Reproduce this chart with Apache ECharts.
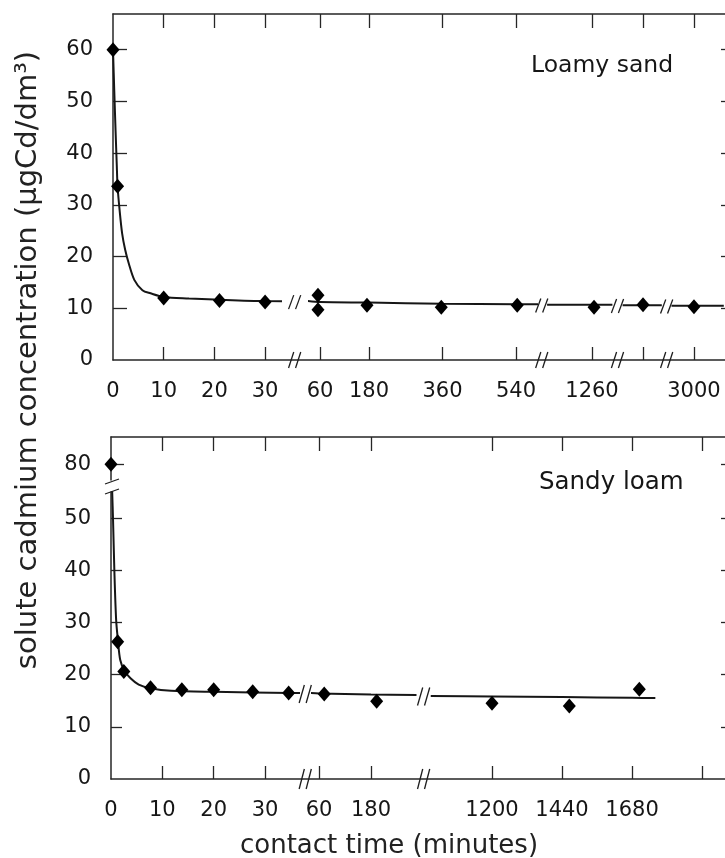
<!DOCTYPE html>
<html>
<head>
<meta charset="utf-8">
<script src="https://cdn.jsdelivr.net/npm/echarts@6/dist/echarts.min.js"></script>
<style>
html,body{margin:0;padding:0;background:#fff;}
#c{width:725px;height:858px;}
</style>
</head>
<body>
<div id="c"></div>
<script>
// ---------------- data ----------------
// Loamy sand (upper panel)
const loamyTime = [0, 0.9, 10, 21, 30, 55, 55, 175, 357, 543, 1265, 1440, 3000];
const loamyConc = [60, 33.6, 12.0, 11.5, 11.2, 12.5, 9.7, 10.6, 10.2, 10.6, 10.2, 10.7, 10.3];
const loamyFitTime = [0, 0.25, 0.5, 0.75, 0.9, 1.3, 1.8, 2.4, 3.1, 4.2, 5.8, 7.4, 10, 15, 20, 30, 60, 180, 360, 540, 600, 1150, 1260, 1310, 1390, 1440, 1486, 2945, 3000, 3073];
const loamyFitConc = [60, 52, 44.5, 37.5, 33.6, 29, 24.5, 21.3, 18.7, 15.5, 13.5, 12.9, 12.2, 11.9, 11.7, 11.4, 11.2, 11.1, 10.9, 10.8, 10.8, 10.7, 10.7, 10.7, 10.6, 10.6, 10.6, 10.5, 10.5, 10.5];
const loamyXTicks = [[10, 20, 30], [60, 180, 360, 540], [1260], [1440], [3000]];
const loamyXLabels = [[0, 10, 20, 30], [60, 180, 360, 540], [1260], [], [3000]];
const loamyYTicks = [10, 20, 30, 40, 50, 60];
const loamyYLabels = [0, 10, 20, 30, 40, 50, 60];

// Sandy loam (lower panel)
const sandyTime = [0, 1.3, 2.5, 7.7, 13.8, 20, 27.6, 34.6, 72, 193, 1200, 1465, 1705];
const sandyConc = [80, 26.3, 20.6, 17.5, 17.1, 17.1, 16.7, 16.5, 16.3, 14.9, 14.5, 14.0, 17.2];
const sandyFitTime = [0.2, 0.4, 0.65, 1.0, 1.35, 1.8, 2.6, 3.8, 5.4, 7.7, 11.7, 20, 35, 60, 180, 285, 990, 1200, 1440, 1680, 1760];
const sandyFitConc = [56, 49.6, 40.1, 30.5, 26.6, 22.8, 20.8, 19.3, 18.1, 17.4, 16.9, 16.7, 16.5, 16.4, 16.2, 16.1, 15.9, 15.8, 15.7, 15.55, 15.5];
const sandyXTicks = [[10, 20, 30], [60, 180], [1200, 1440, 1680, 1920]];
const sandyXLabels = [[0, 10, 20, 30], [60, 180], [1200, 1440, 1680]];
const sandyYTicksLow = [10, 20, 30, 40, 50];
const sandyYLabelsLow = [0, 10, 20, 30, 40, 50];
const sandyYTicksHigh = [80];
const sandyYLabelsHigh = [80];

const yTitle = 'solute cadmium concentration (μgCd/dm³)';
const xTitle = 'contact time (minutes)';
const loamyName = 'Loamy sand';
const sandyName = 'Sandy loam';

// ---------------- layout / style ----------------
const FONT = "'DejaVu Sans', 'Liberation Sans', sans-serif";
const INK = '#161616';
const AXC = '#262626';
const axLine = {color: AXC, width: 1.5};
const tkLine = {color: AXC, width: 1.3};
const plain = v => String(v);

// broken x axis: each piece gets its own linear scale
const topSegs = [
  {l: 113,   r: 280.3, min: 0,    max: 33},
  {l: 309,   r: 536.4, min: 33,   max: 590},
  {l: 547.1, r: 612.4, min: 1150, max: 1310},
  {l: 622.6, r: 661.8, min: 1390, max: 1486},
  {l: 671.5, r: 723.8, min: 2945, max: 3073}
];
const botSegs = [
  {l: 111,    r: 298.4, min: 0,   max: 36.5},
  {l: 312.1,  r: 416.5, min: 44,  max: 285},
  {l: 430.75, r: 723.9, min: 990, max: 1995}
];
const topRow = {top: 14, bottom: 360, yMin: 0, yMax: 66.9, yTicks: loamyYTicks, yLabels: loamyYLabels, yTickLen: 14, bottomTicks: true, topTicks: true};
const botHigh = {top: 437, bottom: 480, yMin: 77, yMax: 85.24, yTicks: sandyYTicksHigh, yLabels: sandyYLabelsHigh, yTickLen: 13, bottomTicks: false, topTicks: true};
const botLow = {top: 492, bottom: 779, yMin: 0, yMax: 55, yTicks: sandyYTicksLow, yLabels: sandyYLabelsLow, yTickLen: 11, bottomTicks: true, topTicks: false};

const grids = [], xAxis = [], yAxis = [], series = [];

function pairs(ts, vs) { return ts.map((t, i) => [t, vs[i]]); }

function fitWindow(fit, min, max) {
  let a = fit.findIndex(p => p[0] >= min);
  let b = -1;
  for (let i = fit.length - 1; i >= 0; i--) { if (fit[i][0] <= max) { b = i; break; } }
  if (a < 0 || b < 0) return [];
  if (fit[a][0] > min) a = Math.max(0, a - 1);
  if (fit[b][0] < max) b = Math.min(fit.length - 1, b + 1);
  return fit.slice(a, b + 1);
}

function addSegment(seg, row, ticks, labels, first, prevMax, pts, fit) {
  const gi = grids.length;
  grids.push({left: seg.l, top: row.top, width: seg.r - seg.l, height: row.bottom - row.top,
    containLabel: false, outerBoundsMode: 'none', show: false});
  const xb = xAxis.length;
  xAxis.push({gridIndex: gi, type: 'value', position: 'bottom', min: seg.min, max: seg.max,
    axisLine: {show: false, onZero: false},
    axisTick: {show: row.bottomTicks, inside: true, length: 13, customValues: ticks, lineStyle: tkLine},
    axisLabel: {show: row.bottomTicks && labels.length > 0, customValues: labels.length ? labels : undefined,
      formatter: plain, margin: 21, fontSize: 21, fontFamily: FONT, color: INK},
    splitLine: {show: false}});
  xAxis.push({gridIndex: gi, type: 'value', position: 'top', min: seg.min, max: seg.max,
    axisLine: {show: false, onZero: false},
    axisTick: {show: row.topTicks, inside: true, length: 14, customValues: ticks, lineStyle: tkLine},
    axisLabel: {show: false}, splitLine: {show: false}});
  const yi = yAxis.length;
  yAxis.push({gridIndex: gi, type: 'value', position: 'left', min: row.yMin, max: row.yMax, show: first,
    axisLine: {show: true, onZero: false, lineStyle: axLine},
    axisTick: {show: true, inside: true, length: row.yTickLen, customValues: row.yTicks, lineStyle: tkLine},
    axisLabel: {show: true, customValues: row.yLabels, formatter: plain, margin: 20, fontSize: 21, fontFamily: FONT, color: INK},
    splitLine: {show: false}});
  if (fit) {
    const win = fitWindow(fit, seg.min, seg.max);
    if (win.length) series.push({type: 'line', xAxisIndex: xb, yAxisIndex: yi, data: win, symbol: 'none',
      smooth: 0.3, lineStyle: {color: INK, width: 2}, clip: true, silent: true, z: 2});
  }
  const inside = pts.filter(p => p[0] >= seg.min && p[0] <= seg.max && p[0] > prevMax && p[1] >= row.yMin && p[1] <= row.yMax);
  if (inside.length) series.push({type: 'scatter', xAxisIndex: xb, yAxisIndex: yi, data: inside,
    symbol: 'diamond', symbolSize: [13, 15], itemStyle: {color: '#000', opacity: 1}, clip: false, silent: true, z: 3});
  return {xb, yi};
}

function addFrame(l, row, topLine, bottomLine, rightTicks) {
  const gi = grids.length;
  grids.push({left: l, top: row.top, width: 726 - l, height: row.bottom - row.top,
    containLabel: false, outerBoundsMode: 'none', show: false});
  if (bottomLine) xAxis.push({gridIndex: gi, type: 'value', position: 'bottom', min: 0, max: 1,
    axisLine: {show: true, onZero: false, lineStyle: axLine}, axisTick: {show: false}, axisLabel: {show: false}, splitLine: {show: false}});
  if (topLine) xAxis.push({gridIndex: gi, type: 'value', position: 'top', min: 0, max: 1,
    axisLine: {show: true, onZero: false, lineStyle: axLine}, axisTick: {show: false}, axisLabel: {show: false}, splitLine: {show: false}});
  yAxis.push({gridIndex: gi, type: 'value', position: 'right', min: row.yMin, max: row.yMax,
    axisLine: {show: false, onZero: false},
    axisTick: {show: true, inside: true, length: 5, customValues: rightTicks, lineStyle: tkLine},
    axisLabel: {show: false}, splitLine: {show: false}});
}

const loamyPts = pairs(loamyTime, loamyConc);
const loamyFit = pairs(loamyFitTime, loamyFitConc);
const sandyPts = pairs(sandyTime, sandyConc);
const sandyFit = pairs(sandyFitTime, sandyFitConc);

addFrame(113, topRow, true, true, loamyYTicks);
addFrame(111, botHigh, true, false, sandyYTicksHigh);
addFrame(111, botLow, false, true, sandyYTicksLow);

const prevOf = (segs, i) => (i === 0 ? -Infinity : segs[i - 1].max);
const topRefs = topSegs.map((s, i) => addSegment(s, topRow, loamyXTicks[i], loamyXLabels[i], i === 0, prevOf(topSegs, i), loamyPts, loamyFit));
botSegs.forEach((s, i) => addSegment(s, botHigh, sandyXTicks[i], [], i === 0, prevOf(botSegs, i), sandyPts, null));
const botRefs = botSegs.map((s, i) => addSegment(s, botLow, sandyXTicks[i], sandyXLabels[i], i === 0, prevOf(botSegs, i), sandyPts, sandyFit));

const chart = echarts.init(document.getElementById('c'), null, {renderer: 'canvas'});
chart.setOption({
  backgroundColor: '#ffffff',
  animation: false,
  grid: grids, xAxis: xAxis, yAxis: yAxis, series: series
});

// ---------------- decorations: texts and break marks ----------------
function interp(ts, vs, t) {
  for (let i = 1; i < ts.length; i++) {
    if (t <= ts[i]) { const f = (t - ts[i - 1]) / (ts[i] - ts[i - 1]); return vs[i - 1] + f * (vs[i] - vs[i - 1]); }
  }
  return vs[vs.length - 1];
}
function slash2(cx, cy, h, gap, lean) {
  return [-1, 1].map(s => ({type: 'line', silent: true, z: 20,
    shape: {x1: cx + s * gap / 2 - lean, y1: cy + h / 2, x2: cx + s * gap / 2 + lean, y2: cy - h / 2},
    style: {stroke: '#1e1e1e', lineWidth: 1.3}}));
}
const graphic = [];
function breaks(segs, refs, row, ts, vs, hAxis, hLine) {
  for (let i = 0; i < segs.length - 1; i++) {
    const a = segs[i], b = segs[i + 1];
    const cx = (a.r + b.l) / 2;
    graphic.push(...slash2(cx, row.bottom, hAxis, 7, 2.6));
    const ya = chart.convertToPixel({xAxisIndex: refs[i].xb, yAxisIndex: refs[i].yi}, [a.max, interp(ts, vs, a.max)])[1];
    const yb = chart.convertToPixel({xAxisIndex: refs[i + 1].xb, yAxisIndex: refs[i + 1].yi}, [b.min, interp(ts, vs, b.min)])[1];
    graphic.push(...slash2(cx, (ya + yb) / 2 + 1, hLine, 7, 2.6));
  }
}
breaks(topSegs, topRefs, topRow, loamyFitTime, loamyFitConc, 16, 14);
breaks(botSegs, botRefs, botLow, sandyFitTime, sandyFitConc, 20, 18);

// y-axis break marks of the lower panel
graphic.push({type: 'line', silent: true, z: 20, shape: {x1: 105, y1: 484, x2: 119, y2: 479}, style: {stroke: '#1e1e1e', lineWidth: 1.3}});
graphic.push({type: 'line', silent: true, z: 20, shape: {x1: 105, y1: 494, x2: 119, y2: 489}, style: {stroke: '#1e1e1e', lineWidth: 1.3}});

graphic.push({type: 'text', silent: true, x: 28, y: 360, rotation: Math.PI / 2,
  style: {text: yTitle, fontSize: 29, fontFamily: FONT, fill: '#222', align: 'center', verticalAlign: 'middle'}});
graphic.push({type: 'text', silent: true, x: 389, y: 846,
  style: {text: xTitle, fontSize: 26, fontFamily: FONT, fill: '#222', align: 'center', verticalAlign: 'middle'}});
graphic.push({type: 'text', silent: true, x: 531, y: 66,
  style: {text: loamyName, fontSize: 23.5, fontFamily: FONT, fill: INK, align: 'left', verticalAlign: 'middle'}});
graphic.push({type: 'text', silent: true, x: 539, y: 483,
  style: {text: sandyName, fontSize: 24.5, fontFamily: FONT, fill: INK, align: 'left', verticalAlign: 'middle'}});

chart.setOption({graphic: graphic});
</script>
</body>
</html>
